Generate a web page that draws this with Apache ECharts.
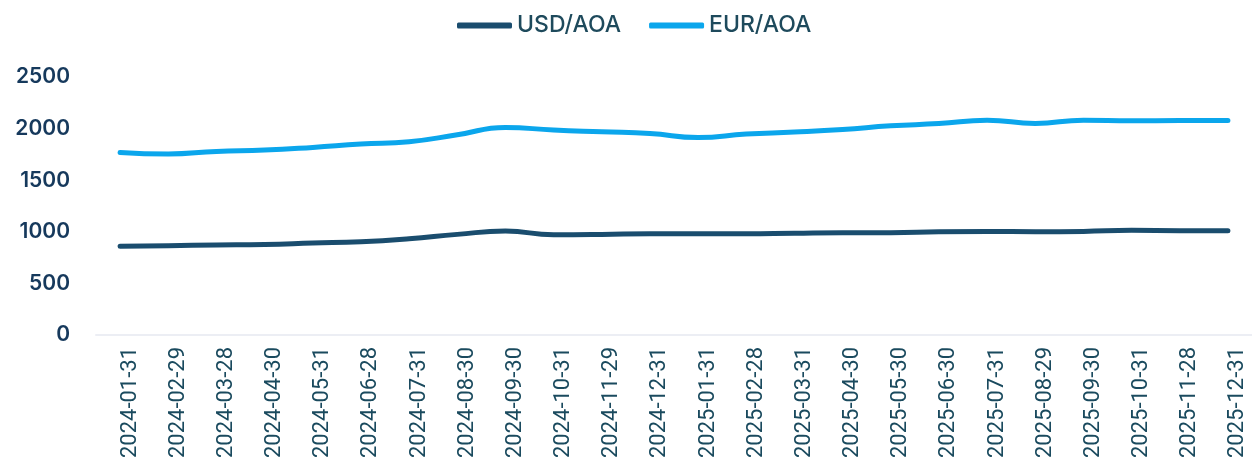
<!DOCTYPE html>
<html>
<head>
<meta charset="utf-8">
<script src="https://cdn.jsdelivr.net/npm/echarts@6/dist/echarts.min.js"></script>
<style>
html,body{margin:0;padding:0;background:#fff;}
#chart{width:1252px;height:473px;}
</style>
</head>
<body>
<div id="chart"></div>
<script>
const categories = ["2024-01-31","2024-02-29","2024-03-28","2024-04-30","2024-05-31","2024-06-28","2024-07-31","2024-08-30","2024-09-30","2024-10-31","2024-11-29","2024-12-31","2025-01-31","2025-02-28","2025-03-31","2025-04-30","2025-05-30","2025-06-30","2025-07-31","2025-08-29","2025-09-30","2025-10-31","2025-11-28","2025-12-31"];
const usdAoa = [859,866,872,878,891,904,933,975,1007,972,975,982,982,982,987,991,991,1001,1004,1001,1004,1014,1011,1011];
const eurAoa = [1769,1754,1779,1792,1818,1850,1873,1940,2011,1986,1969,1953,1914,1947,1966,1991,2027,2049,2082,2049,2082,2075,2078,2078];
const yTicks = {min:0, max:2500, interval:500};

const chart = echarts.init(document.getElementById('chart'));
chart.setOption({
  animation:false,
  backgroundColor:'#ffffff',
  legend:{
    top:9, left:452,
    itemWidth:55, itemHeight:6, itemGap:28,
    icon:'roundRect',
    textStyle:{fontFamily:'Inter', fontSize:23, fontWeight:500, color:'#1e4a5c'},
    data:['USD/AOA','EUR/AOA']
  },
  grid:{left:96, right:-3, top:77, bottom:138, containLabel:false},
  xAxis:{
    type:'category', data:categories, boundaryGap:true,
    axisLine:{show:true, lineStyle:{color:'#eceef4', width:2}},
    axisTick:{show:false},
    axisLabel:{rotate:90, interval:0, margin:12, verticalAlign:'top', lineHeight:20,
      fontFamily:'Roboto', fontSize:22, color:'#1a4a5e'}
  },
  yAxis:{
    type:'value', min:yTicks.min, max:yTicks.max, interval:yTicks.interval,
    splitLine:{show:false}, axisLine:{show:false}, axisTick:{show:false},
    axisLabel:{margin:26, fontFamily:'Inter', fontSize:21, fontWeight:600, color:'#16395c',
      formatter:function(v){return String(v);}}
  },
  series:[
    {name:'USD/AOA', type:'line', data:usdAoa, smooth:true, symbol:'none',
     lineStyle:{width:5, color:'#1a4d6e', cap:'round'}, itemStyle:{color:'#1a4d6e'}},
    {name:'EUR/AOA', type:'line', data:eurAoa, smooth:true, symbol:'none',
     lineStyle:{width:5, color:'#0ba6ec', cap:'round'}, itemStyle:{color:'#0ba6ec'}}
  ]
});
</script>
</body>
</html>
